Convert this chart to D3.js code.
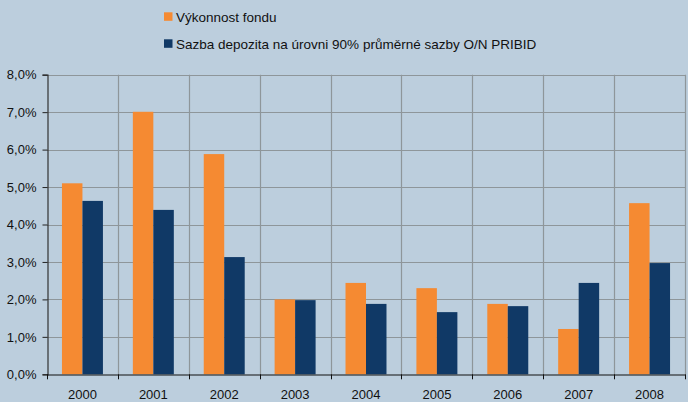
<!DOCTYPE html>
<html><head><meta charset="utf-8">
<script src="https://cdn.jsdelivr.net/npm/d3@7"></script>
<style>body{margin:0;background:#bccedd;}svg{display:block;font-family:"Liberation Sans",Arial,sans-serif;}</style>
</head><body><svg id="c" width="688" height="402"></svg>
<script>
const categories = ["2000","2001","2002","2003","2004","2005","2006","2007","2008"];
const fundPerformance = [5.10, 7.01, 5.88, 2.00, 2.44, 2.30, 1.88, 1.21, 4.57];
const depositRate = [4.63, 4.39, 3.13, 1.98, 1.88, 1.66, 1.82, 2.44, 2.97];
const seriesNames = ["Výkonnost fondu", "Sazba depozita na úrovni 90% průměrné sazby O/N PRIBID"];
const yTicks = [0,1,2,3,4,5,6,7,8];

const colors = ["#f58a32", "#103966"];
const svg = d3.select("#c");
svg.append("rect").attr("width",688).attr("height",402).attr("fill","#bccedd");
const m = {l:47, r:685, t:74.7, b:374.3};
const x = d3.scaleBand().domain(categories).range([m.l, m.r]).paddingInner(0).paddingOuter(0);
const y = d3.scaleLinear().domain([0,8]).range([m.b, m.t]);
const inner = d3.scaleBand().domain([0,1]).range([0, x.bandwidth()]).paddingInner(0).paddingOuter(0.73);

// gridlines
const g = svg.append("g");
g.selectAll(".hg").data(yTicks.slice(1)).enter().append("line")
  .attr("x1", m.l).attr("x2", m.r).attr("y1", d=>Math.round(y(d))+0.5).attr("y2", d=>Math.round(y(d))+0.5)
  .attr("stroke","#8e969a").attr("stroke-width",1.2);
const vlines = categories.slice(1).map(c=>x(c)).concat([m.r]);
g.selectAll(".vg").data(vlines).enter().append("line")
  .attr("x1", d=>Math.round(d)+0.5).attr("x2", d=>Math.round(d)+0.5).attr("y1", m.t).attr("y2", m.b)
  .attr("stroke","#8e969a").attr("stroke-width",1.2);

// bars
const series = [fundPerformance, depositRate];
series.forEach((vals, si) => {
  svg.append("g").selectAll("rect").data(vals).enter().append("rect")
    .attr("x", (d,i)=>x(categories[i]) + inner(si))
    .attr("width", inner.bandwidth())
    .attr("y", d=>y(d)).attr("height", d=>y(0)-y(d))
    .attr("fill", colors[si]);
});

// y axis
const ya = svg.append("g").attr("transform",`translate(${m.l+0.5},0)`)
  .call(d3.axisLeft(y).tickValues(yTicks).tickSize(5).tickPadding(6)
    .tickFormat(d=>d3.format(".1f")(d).replace(".",",")+"%"));
ya.select(".domain").attr("stroke","#333").attr("stroke-width",1.2);
ya.selectAll(".tick line").attr("stroke","#222");
ya.selectAll("text").attr("font-size",13).attr("fill","#111").attr("font-family","Liberation Sans, Arial, sans-serif");

// x axis
const xa = svg.append("g").attr("transform",`translate(0,${Math.round(m.b)+0.5})`)
  .call(d3.axisBottom(x).tickSize(0).tickPadding(15.5));
xa.select(".domain").attr("stroke","#111").attr("stroke-width",1.2);
xa.selectAll("text").attr("font-size",13).attr("fill","#111").attr("font-family","Liberation Sans, Arial, sans-serif");
svg.append("g").selectAll("line").data(categories.map(c=>x(c)).concat([m.r])).enter().append("line")
  .attr("x1", d=>Math.round(d)+0.5).attr("x2", d=>Math.round(d)+0.5)
  .attr("y1", m.b).attr("y2", m.b+5).attr("stroke","#111").attr("stroke-width",1);

// legend
const lg = svg.append("g");
seriesNames.forEach((n,i)=>{
  const yy = 12.3 + i*27;
  lg.append("rect").attr("x",164).attr("y",yy).attr("width",8.5).attr("height",8.5).attr("fill",colors[i]);
  lg.append("text").attr("x",176).attr("y",yy+9.8).attr("font-size",13.5).attr("fill","#111").text(n);
});
</script></body></html>
